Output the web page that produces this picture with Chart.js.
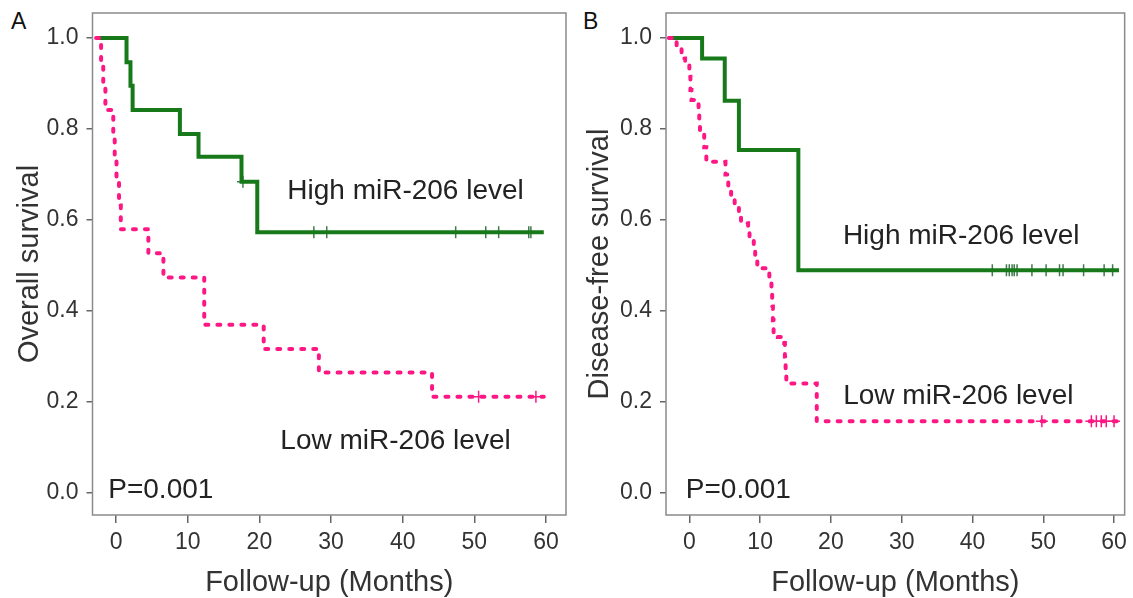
<!DOCTYPE html>
<html lang="en">
<head>
<meta charset="UTF-8">
<title>Kaplan-Meier: miR-206 level</title>
<style>
  body{margin:0;background:#fff;font-family:"Liberation Sans",Arial,sans-serif;}
  .panel{position:absolute;top:0;}
  .tag{position:absolute;top:8px;font-size:23px;color:#111;}
</style>
</head>
<body>
<div class="tag" style="left:11px">A</div>
<div class="tag" style="left:583px">B</div>
<div class="panel" style="left:0"><canvas id="osChart" width="580" height="598"></canvas></div>
<div class="panel" style="left:574px"><canvas id="dfsChart" width="559" height="598"></canvas></div>

<script src="https://cdn.jsdelivr.net/npm/chart.js@4.4.1"></script>
<script>
/* ---------- data: panel A, overall survival ---------- */
const osHighMonths = [-2.8, 1.45, 2.0, 2.3, 8.9, 11.5, 17.5, 19.7, 59.7];
const osHighSurv   = [1.0, 0.947, 0.895, 0.842, 0.789, 0.739, 0.684, 0.573, 0.573];
const osHighCensMonths = [17.7, 27.6, 29.4, 47.4, 51.6, 53.4, 57.6, 57.9];
const osHighCensSurv   = [0.684, 0.573, 0.573, 0.573, 0.573, 0.573, 0.573, 0.573];

const osLowMonths = [-2.8, -2.1, -1.8, -1.5, -0.4, -0.2, 0.05, 0.4, 0.65, 4.5, 6.6, 12.3, 20.6, 28.3, 44.1, 59.7];
const osLowSurv   = [1.0, 0.947, 0.895, 0.842, 0.789, 0.737, 0.684, 0.632, 0.580, 0.527, 0.474, 0.370, 0.317, 0.265, 0.212, 0.212];
const osLowCensMonths = [50.6, 58.6];
const osLowCensSurv   = [0.212, 0.212];

/* ---------- data: panel B, disease-free survival ---------- */
const dfsHighMonths = [-2.9, 1.8, 5.0, 7.0, 15.4, 60.7];
const dfsHighSurv   = [1.0, 0.955, 0.862, 0.754, 0.490, 0.490];
const dfsHighCensMonths = [42.8, 44.8, 45.2, 45.6, 45.9, 46.3, 48.4, 50.4, 52.3, 52.8, 55.7, 58.6, 59.8];
const dfsHighCensSurv   = [0.49, 0.49, 0.49, 0.49, 0.49, 0.49, 0.49, 0.49, 0.49, 0.49, 0.49, 0.49, 0.49];

const dfsLowMonths = [-2.9, -1.8, -1.1, -0.6, 0.0, 0.15, 0.3, 1.3, 1.4, 1.5, 2.1, 2.4, 5.1, 5.5, 5.9, 6.4, 7.0, 7.3, 8.3, 8.5, 9.1, 9.3, 9.6,
                      11.3, 11.6, 11.7, 11.8, 11.9, 12.5, 13.4, 13.5, 13.6, 13.7, 18.0, 60.7];
const dfsLowSurv   = [1.0, 0.98, 0.955, 0.94, 0.915, 0.886, 0.864, 0.84, 0.815, 0.79, 0.76, 0.728, 0.70, 0.673, 0.651, 0.633, 0.616, 0.593, 0.58, 0.555, 0.54, 0.518, 0.494,
                      0.468, 0.44, 0.41, 0.38, 0.351, 0.343, 0.33, 0.30, 0.27, 0.241, 0.158, 0.158];
const dfsLowCensMonths = [49.8, 56.8, 57.5, 58.2, 58.9, 60.0];
const dfsLowCensSurv   = [0.158, 0.158, 0.158, 0.158, 0.158, 0.158];

/* ---------- axis ticks ---------- */
const monthTicks = [0, 10, 20, 30, 40, 50, 60];
const survTicks  = [0, 0.2, 0.4, 0.6, 0.8, 1.0];

const GREEN = '#17791a';
const PINK  = '#fc1784';
const FONT  = '"Liberation Sans", Arial, sans-serif';

const pts = (xs, ys) => xs.map((x, i) => ({x: x, y: ys[i]}));

/* box round the plot area + free text labels */
const framePlugin = {
  id: 'frame',
  afterDraw(chart, args, opts){
    const {ctx, chartArea: a, scales} = chart;
    ctx.save();
    ctx.strokeStyle = '#8a8a8a';
    ctx.lineWidth = 1.5;
    ctx.strokeRect(a.left, a.top, a.right - a.left, a.bottom - a.top);
    ctx.fillStyle = '#222';
    ctx.font = '28px ' + FONT;
    ctx.textBaseline = 'middle';
    (opts.notes || []).forEach(n => {
      ctx.textAlign = n.align;
      ctx.fillText(n.text, scales.x.getPixelForValue(n.x), scales.y.getPixelForValue(n.y));
    });
    ctx.restore();
  }
};

function kmChart(id, cfg){
  return new Chart(document.getElementById(id), {
    type: 'line',
    data: {
      datasets: [
        {data: pts(cfg.lowT, cfg.lowS), borderColor: PINK, borderWidth: 4, borderDash: [3, 9],
         borderCapStyle: 'round', stepped: 'before', pointRadius: 0, fill: false},
        {data: pts(cfg.highT, cfg.highS), borderColor: GREEN, borderWidth: 4,
         stepped: 'before', pointRadius: 0, fill: false},
        {type: 'scatter', data: pts(cfg.highCT, cfg.highCS), pointStyle: 'cross',
         pointRadius: 6, borderColor: '#3f7a4c', borderWidth: 1.5, showLine: false},
        {type: 'scatter', data: pts(cfg.lowCT, cfg.lowCS), pointStyle: 'cross',
         pointRadius: 6, borderColor: PINK, borderWidth: 1.5, showLine: false}
      ]
    },
    options: {
      responsive: false,
      animation: false,
      layout: {padding: {top: 13, right: cfg.padRight, left: 0, bottom: 0}},
      plugins: {legend: {display: false}, tooltip: {enabled: false}, frame: {notes: cfg.notes}},
      scales: {
        x: {
          type: 'linear', min: -3.3, max: cfg.xMax,
          afterBuildTicks: s => { s.ticks = monthTicks.map(v => ({value: v})); },
          afterFit: s => { s.height = 83; },
          grid: {drawOnChartArea: false, drawTicks: true, tickLength: 8, color: '#666', lineWidth: 1.5},
          border: {display: false},
          ticks: {color: '#333', font: {family: FONT, size: 23}, padding: 6},
          title: {display: true, text: 'Follow-up (Months)', color: '#333',
                  font: {family: FONT, size: 29, lineHeight: 1}, padding: {top: 0, bottom: 1}}
        },
        y: {
          min: -0.048, max: 1.055,
          afterBuildTicks: s => { s.ticks = survTicks.map(v => ({value: v})); },
          afterFit: s => { s.width = cfg.yWidth; s.paddingTop = 0; s.paddingBottom = 0; },
          grid: {drawOnChartArea: false, drawTicks: true, tickLength: 6, color: '#666', lineWidth: 1.5},
          border: {display: false},
          ticks: {color: '#333', font: {family: FONT, size: 23}, padding: 8,
                  callback: v => v.toFixed(1)},
          title: {display: true, text: cfg.yTitle, color: '#333',
                  font: {family: FONT, size: 29, lineHeight: 1}, padding: {top: cfg.titlePad, bottom: 0}}
        }
      }
    },
    plugins: [framePlugin]
  });
}

kmChart('osChart', {
  lowT: osLowMonths, lowS: osLowSurv, highT: osHighMonths, highS: osHighSurv,
  highCT: osHighCensMonths, highCS: osHighCensSurv, lowCT: osLowCensMonths, lowCS: osLowCensSurv,
  xMax: 62.8, padRight: 14, yWidth: 92.5, titlePad: 15, yTitle: 'Overall survival',
  notes: [
    {text: 'High miR-206 level', x: 40.4, y: 0.664, align: 'center'},
    {text: 'Low miR-206 level', x: 39.0, y: 0.114, align: 'center'},
    {text: 'P=0.001', x: -1.1, y: 0.007, align: 'left'}
  ]
});

kmChart('dfsChart', {
  lowT: dfsLowMonths, lowS: dfsLowSurv, highT: dfsHighMonths, highS: dfsHighSurv,
  highCT: dfsHighCensMonths, highCS: dfsHighCensSurv, lowCT: dfsLowCensMonths, lowCS: dfsLowCensSurv,
  xMax: 61.5, padRight: 4, yWidth: 92, titlePad: 11, yTitle: 'Disease-free survival',
  notes: [
    {text: 'High miR-206 level', x: 38.4, y: 0.565, align: 'center'},
    {text: 'Low miR-206 level', x: 38.0, y: 0.213, align: 'center'},
    {text: 'P=0.001', x: -0.5, y: 0.007, align: 'left'}
  ]
});
</script>
</body>
</html>
